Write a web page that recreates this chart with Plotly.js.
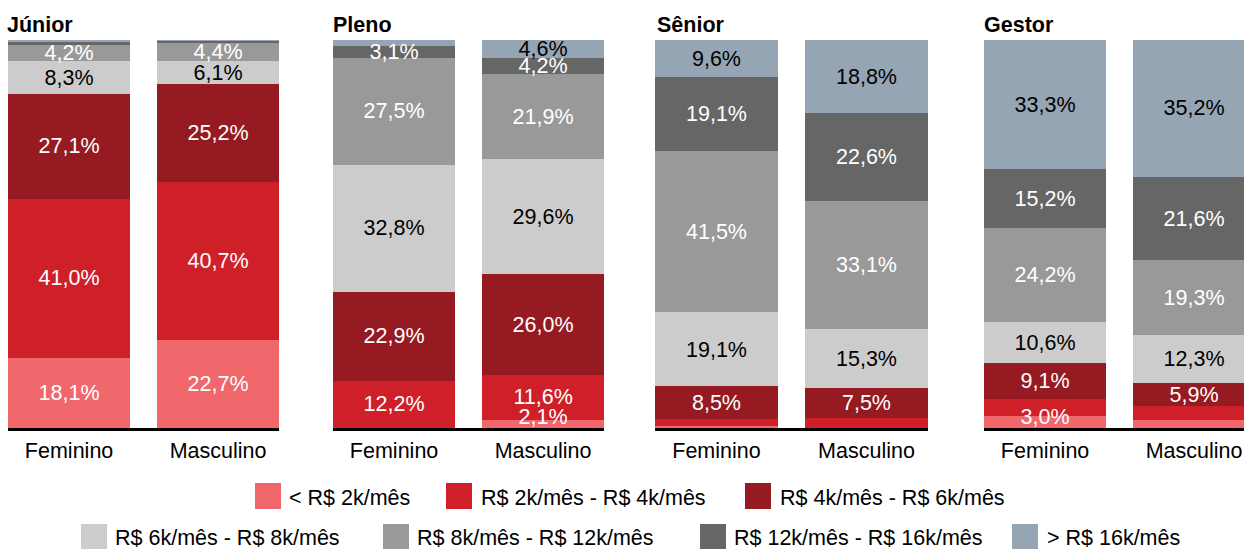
<!DOCTYPE html>
<html>
<head>
<meta charset="utf-8">
<script src="https://cdn.plot.ly/plotly-3.0.1.min.js"></script>
<style>html,body{margin:0;padding:0;background:#fff;}#chart{width:1244px;height:549px;}</style>
</head>
<body>
<div id="chart"></div>
<script>
// ---- data ----
const levels = ['Júnior', 'Pleno', 'Sênior', 'Gestor'];
const genders = ['Feminino', 'Masculino'];
const categories = ['< R$ 2k/mês', 'R$ 2k/mês - R$ 4k/mês', 'R$ 4k/mês - R$ 6k/mês',
  'R$ 6k/mês - R$ 8k/mês', 'R$ 8k/mês - R$ 12k/mês', 'R$ 12k/mês - R$ 16k/mês', '> R$ 16k/mês'];

const juniorFeminino  = [18.1, 41.0, 27.1, 8.3, 4.2, 0.7, 0.6];
const juniorMasculino = [22.7, 40.7, 25.2, 6.1, 4.4, 0.6, 0.3];
const plenoFeminino   = [0.0, 12.2, 22.9, 32.8, 27.5, 3.1, 1.5];
const plenoMasculino  = [2.1, 11.6, 26.0, 29.6, 21.9, 4.2, 4.6];
const seniorFeminino  = [0.4, 1.8, 8.5, 19.1, 41.5, 19.1, 9.6];
const seniorMasculino = [0.0, 2.7, 7.5, 15.3, 33.1, 22.6, 18.8];
const gestorFeminino  = [3.0, 4.6, 9.1, 10.6, 24.2, 15.2, 33.3];
const gestorMasculino = [2.1, 3.6, 5.9, 12.3, 19.3, 21.6, 35.2];

// which segment labels are printed (1 = shown)
const juniorFemininoLabels  = [1, 1, 1, 1, 1, 0, 0];
const juniorMasculinoLabels = [1, 1, 1, 1, 1, 0, 0];
const plenoFemininoLabels   = [0, 1, 1, 1, 1, 1, 0];
const plenoMasculinoLabels  = [1, 1, 1, 1, 1, 1, 1];
const seniorFemininoLabels  = [0, 0, 1, 1, 1, 1, 1];
const seniorMasculinoLabels = [0, 0, 1, 1, 1, 1, 1];
const gestorFemininoLabels  = [1, 0, 1, 1, 1, 1, 1];
const gestorMasculinoLabels = [0, 0, 1, 1, 1, 1, 1];

// ---- styles ----
const colors = ['#F0686B', '#CF2029', '#961A21', '#CCCCCC', '#999999', '#666666', '#95A5B4'];
const labelColors = ['#ffffff', '#ffffff', '#ffffff', '#000000', '#ffffff', '#ffffff', '#000000'];
const FONT = 'Liberation Sans, Arial, Helvetica, sans-serif';
const FS = 21.5;
const MIN_LABEL_Y = 2.8;   // keep labels of tiny bottom segments above the baseline
const LABEL_NUDGE = -0.45; // small optical nudge of the value labels

const panels = [
  {fem: juniorFeminino, masc: juniorMasculino, fl: juniorFemininoLabels, ml: juniorMasculinoLabels},
  {fem: plenoFeminino, masc: plenoMasculino, fl: plenoFemininoLabels, ml: plenoMasculinoLabels},
  {fem: seniorFeminino, masc: seniorMasculino, fl: seniorFemininoLabels, ml: seniorMasculinoLabels},
  {fem: gestorFeminino, masc: gestorMasculino, fl: gestorFemininoLabels, ml: gestorMasculinoLabels}
];

// panel geometry in pixels
const W = 1244, H = 549, T = 40, B = 121;
const PH = H - T - B;
const domainsPx = [[8, 279], [333, 604], [655, 928], [984, 1244]];
const unitPx = [149, 149, 150, 149];
const titleX = [5, 331, 655, 982];

const fmt = v => v.toFixed(1).replace('.', ',') + '%';
const px2x = p => p / W;
const px2y = p => (T + PH - p) / PH;

const barTraces = [];
const labelTraces = [];
panels.forEach((pn, p) => {
  const sfx = p === 0 ? '' : String(p + 1);
  categories.forEach((cat, c) => {
    barTraces.push({
      type: 'bar',
      name: cat,
      x: genders,
      y: [pn.fem[c], pn.masc[c]],
      marker: {color: colors[c], line: {width: 0}},
      width: 0.82,
      xaxis: 'x' + sfx,
      yaxis: 'y' + sfx,
      showlegend: false,
      hoverinfo: 'skip'
    });
  });
  // value labels placed at the middle of each stacked segment
  const lx = [], ly = [], lt = [], lc = [];
  [[pn.fem, pn.fl], [pn.masc, pn.ml]].forEach((pair, g) => {
    const vals = pair[0], show = pair[1];
    let base = 0;
    vals.forEach((v, c) => {
      if (show[c]) {
        lx.push(genders[g]);
        ly.push(Math.max(base + v / 2, MIN_LABEL_Y) + LABEL_NUDGE);
        lt.push(fmt(v));
        lc.push(labelColors[c]);
      }
      base += v;
    });
  });
  labelTraces.push({
    type: 'scatter', mode: 'text',
    x: lx, y: ly, text: lt,
    textposition: 'middle center',
    textfont: {family: FONT, size: FS, color: lc},
    cliponaxis: false,
    xaxis: 'x' + sfx, yaxis: 'y' + sfx,
    showlegend: false, hoverinfo: 'skip'
  });
});

const layout = {
  width: W, height: H,
  margin: {l: 0, r: 0, t: T, b: B, pad: 0},
  paper_bgcolor: '#ffffff', plot_bgcolor: '#ffffff',
  barmode: 'stack',
  showlegend: false,
  font: {family: FONT, size: FS, color: '#000000'},
  annotations: [],
  shapes: []
};

domainsPx.forEach((d, p) => {
  const sfx = p === 0 ? '' : String(p + 1);
  const lenUnits = (d[1] - d[0]) / unitPx[p];
  layout['xaxis' + sfx] = {
    type: 'category',
    domain: [px2x(d[0]), px2x(d[1])],
    range: [-0.41, -0.41 + lenUnits],
    anchor: 'y' + sfx,
    showline: true, linecolor: '#000000', linewidth: 2.5,
    ticks: '', showgrid: false, zeroline: false,
    ticklabelstandoff: 2,
    tickfont: {family: FONT, size: FS, color: '#000000'},
    fixedrange: true
  };
  layout['yaxis' + sfx] = {
    domain: [0, 1], range: [0, 100], anchor: 'x' + sfx,
    visible: false, showgrid: false, zeroline: false, fixedrange: true
  };
  layout.annotations.push({
    text: '<b>' + levels[p] + '</b>',
    xref: 'paper', yref: 'paper',
    x: px2x(titleX[p]), y: px2y(25),
    xanchor: 'left', yanchor: 'middle',
    showarrow: false,
    font: {family: FONT, size: FS, color: '#000000'}
  });
});

// legend (two centred rows)
const legendRows = [
  {items: [0, 1, 2], sw: [255, 446, 745], tx: [287, 479, 778], top: 483, ty: 498},
  {items: [3, 4, 5, 6], sw: [81, 383, 700, 1012], tx: [113, 415, 732, 1045], top: 524, ty: 537.5}
];
const SW = 26;
legendRows.forEach(row => {
  row.items.forEach((ci, k) => {
    layout.shapes.push({
      type: 'rect', xref: 'paper', yref: 'paper',
      x0: px2x(row.sw[k]), x1: px2x(row.sw[k] + SW),
      y0: px2y(row.top + SW), y1: px2y(row.top),
      fillcolor: colors[ci], line: {width: 0}, layer: 'above'
    });
    layout.annotations.push({
      text: categories[ci],
      xref: 'paper', yref: 'paper',
      x: px2x(row.tx[k]), y: px2y(row.ty),
      xanchor: 'left', yanchor: 'middle',
      showarrow: false,
      font: {family: FONT, size: FS, color: '#000000'}
    });
  });
});

Plotly.newPlot('chart', barTraces.concat(labelTraces), layout, {staticPlot: true, displayModeBar: false});
</script>
</body>
</html>
